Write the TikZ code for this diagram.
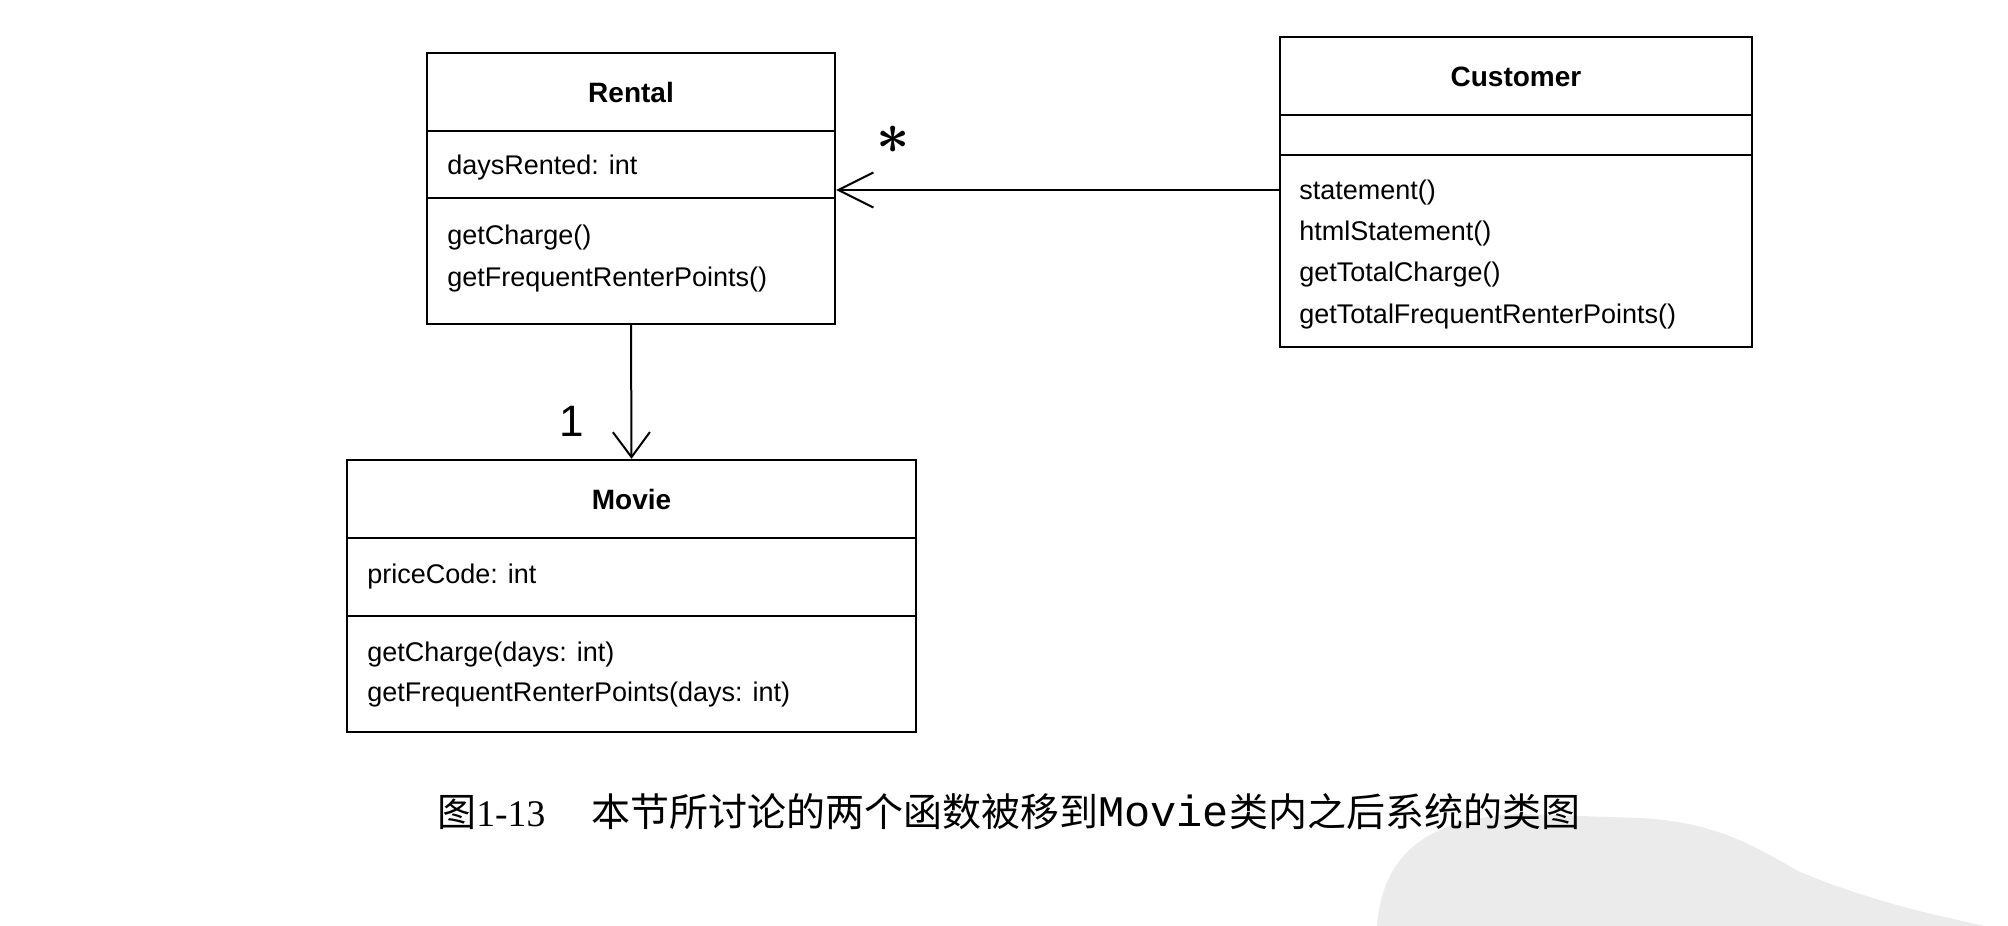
\documentclass[tikz,border=0pt]{standalone}
\usepackage{fontspec}
\usepackage{bm}
\usetikzlibrary{arrows.meta}
\newfontfamily\umlfont{Liberation Sans}
\newfontfamily\cjkfont{Noto Sans CJK SC}
\newfontfamily\capserif{Liberation Serif}
\newfontfamily\capmono{Liberation Mono}
\tikzset{
  classbox/.style={draw, line width=1.2pt, inner sep=0pt},
  divider/.style={line width=1.2pt},
  member/.style={anchor=west, inner sep=0pt, font=\umlfont\fontsize{13.5}{16}\selectfont},
  classname/.style={inner sep=0pt, font=\umlfont\bfseries\fontsize{14}{16}\selectfont},
  assoc/.style={line width=1pt},
  mult/.style={inner sep=0pt},
}
\begin{document}
\begin{tikzpicture}[x=0.5pt,y=-0.5pt]
\useasboundingbox (0,0) rectangle (2008,926);
% watermark
\fill[black!8] (1377,926) .. controls (1382,860) and (1420,818) .. (1520,814)
  -- (1640,818) .. controls (1720,822) and (1760,850) .. (1800,872)
  .. controls (1880,905) and (1950,918) .. (1985,926) -- cycle;

% Rental
\node[classbox, minimum width=204pt, minimum height=135.5pt] (rental) at (631,188.5) {};
\draw[divider] (427,131) -- (835,131);
\draw[divider] (427,198) -- (835,198);
\node[classname] (rentalname) at (631,92) {Rental};
\node[member] (rentalattr) at (447,168) {daysRented: int};
\node[member] (rentalm1) at (447,238) {getCharge()};
\node[member] (rentalm2) at (447,280) {getFrequentRenterPoints()};

% Customer
\node[classbox, minimum width=236pt, minimum height=155pt] (customer) at (1516,192) {};
\draw[divider] (1280,115) -- (1752,115);
\draw[divider] (1280,155) -- (1752,155);
\node[classname] (customername) at (1516,77) {Customer};
\node[member] (custm1) at (1299,193) {statement()};
\node[member] (custm2) at (1299,234) {htmlStatement()};
\node[member] (custm3) at (1299,275) {getTotalCharge()};
\node[member] (custm4) at (1299,317) {getTotalFrequentRenterPoints()};

% Movie
\node[classbox, minimum width=284.5pt, minimum height=136pt] (movie) at (631.5,596) {};
\draw[divider] (347,538) -- (916,538);
\draw[divider] (347,616) -- (916,616);
\node[classname] (moviename) at (631.5,499) {Movie};
\node[member] (movieattr) at (367,577) {priceCode: int};
\node[member] (moviem1) at (367,655) {getCharge(days: int)};
\node[member] (moviem2) at (367,695) {getFrequentRenterPoints(days: int)};

% associations
\coordinate (ay) at (0,190);
\draw[assoc, -{Straight Barb[length=17.5pt, width=17.5pt, line width=1pt]}]
  (customer.west |- ay) -- (rental.east |- ay);
\draw[assoc, -{Straight Barb[length=12.5pt, width=18.5pt, line width=1pt]}]
  (rental.south) -- (movie.north);
\node[mult, scale=2.9] (star) at (893,140) {$\bm{\ast}$};
\node[mult, font=\umlfont\fontsize{22}{22}\selectfont] (one) at (572,421) {1};

% caption
\node[anchor=west, inner sep=0pt] (caption) at (437,812)
  {{\cjkfont\fontsize{19.5}{22}\selectfont 图}{\capserif\fontsize{18.8}{22}\selectfont 1-13}\hspace{23pt}{\cjkfont\fontsize{19.5}{22}\selectfont 本节所讨论的两个函数被移到}{\capmono\fontsize{21.8}{22}\selectfont Movie}{\cjkfont\fontsize{19.5}{22}\selectfont 类内之后系统的类图}};
\end{tikzpicture}
\end{document}
